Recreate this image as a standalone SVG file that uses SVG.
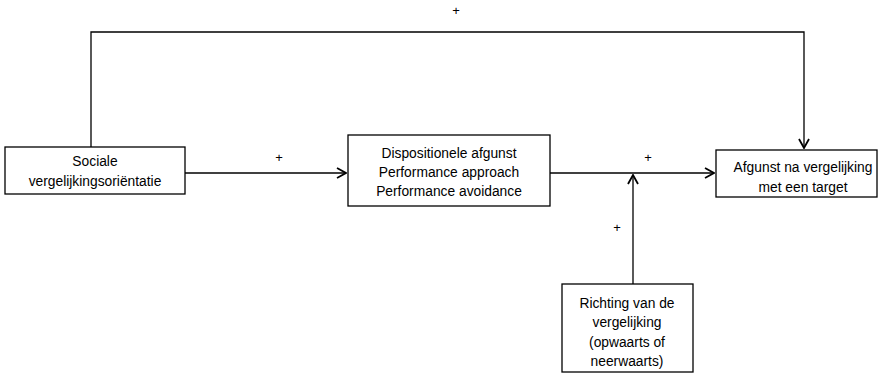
<svg xmlns="http://www.w3.org/2000/svg" width="890" height="374" viewBox="0 0 890 374">
<defs>
<style>
.box{fill:#fff;stroke:#000;stroke-width:1.3}
.t{font-family:"Liberation Sans",Arial,sans-serif;font-size:13.8px;fill:#000;text-anchor:middle}
.p{font-family:"Liberation Sans",Arial,sans-serif;font-size:13px;fill:#000;text-anchor:middle}
.c{fill:none;stroke:#000;stroke-width:1.3}
</style>
<marker id="ah" viewBox="0 0 12 12" refX="11" refY="6" markerWidth="12" markerHeight="12" markerUnits="userSpaceOnUse" orient="auto">
<path d="M2,1 L11,6 L2,11" fill="none" stroke="#000" stroke-width="1.8"/>
</marker>
</defs>
<rect width="890" height="374" fill="#fff"/>
<g id="connectors">
<path class="c" d="M91,147 V32 H804 V148" marker-end="url(#ah)"/>
<path class="c" d="M185,173 H346" marker-end="url(#ah)"/>
<path class="c" d="M550,173 H714" marker-end="url(#ah)"/>
<path class="c" d="M633,284 V175" marker-end="url(#ah)"/>
<text class="p" x="456" y="15">+</text>
<text class="p" x="279" y="162">+</text>
<text class="p" x="648" y="162">+</text>
<text class="p" x="617" y="232">+</text>
</g>
<g id="sociale">
<rect class="box" x="5" y="147" width="180" height="47"/>
<text class="t" x="95" y="166">Sociale</text>
<text class="t" x="95" y="186">vergelijkingsoriëntatie</text>
</g>
<g id="dispositionele">
<rect class="box" x="348" y="135" width="202" height="71"/>
<text class="t" x="449" y="158">Dispositionele afgunst</text>
<text class="t" x="449" y="177">Performance approach</text>
<text class="t" x="449" y="196">Performance avoidance</text>
</g>
<g id="afgunst">
<rect class="box" x="716" y="150" width="161" height="47"/>
<text class="t" x="803" y="172">Afgunst na vergelijking</text>
<text class="t" x="803" y="192">met een target</text>
</g>
<g id="richting">
<rect class="box" x="562" y="284" width="131" height="88"/>
<text class="t" x="627" y="308">Richting van de</text>
<text class="t" x="627" y="327">vergelijking</text>
<text class="t" x="627" y="347">(opwaarts of</text>
<text class="t" x="627" y="366">neerwaarts)</text>
</g>
</svg>
